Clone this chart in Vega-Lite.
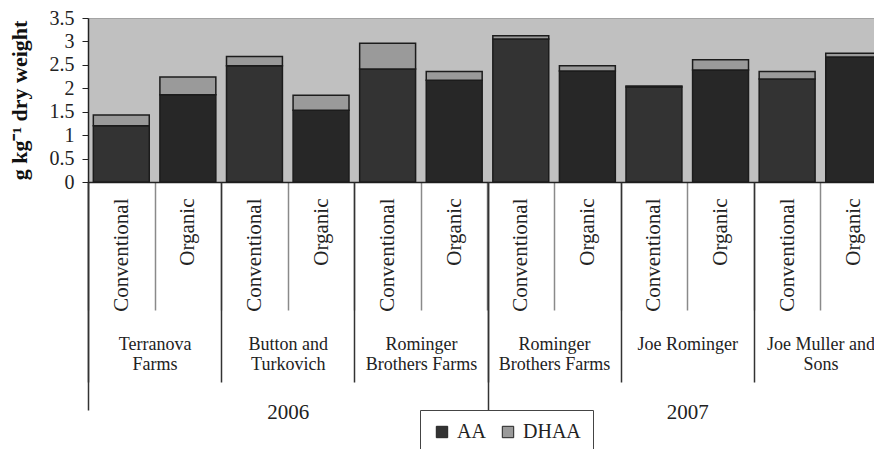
{
  "$schema": "https://vega.github.io/schema/vega-lite/v6.json",
  "width": 786,
  "height": 164,
  "autosize": {"type": "none"},
  "padding": {"left": 88, "top": 18, "right": 0, "bottom": 267},
  "background": "white",
  "data": {
    "values": [
      {"bar": "01|Conventional", "farm": "2006|Terranova|Farms", "year": "2006", "treatment": "Conventional", "form": "AA", "value": 1.20},
      {"bar": "01|Conventional", "farm": "2006|Terranova|Farms", "year": "2006", "treatment": "Conventional", "form": "DHAA", "value": 0.23},
      {"bar": "02|Organic", "farm": "2006|Terranova|Farms", "year": "2006", "treatment": "Organic", "form": "AA", "value": 1.86},
      {"bar": "02|Organic", "farm": "2006|Terranova|Farms", "year": "2006", "treatment": "Organic", "form": "DHAA", "value": 0.38},
      {"bar": "03|Conventional", "farm": "2006|Button and|Turkovich", "year": "2006", "treatment": "Conventional", "form": "AA", "value": 2.48},
      {"bar": "03|Conventional", "farm": "2006|Button and|Turkovich", "year": "2006", "treatment": "Conventional", "form": "DHAA", "value": 0.20},
      {"bar": "04|Organic", "farm": "2006|Button and|Turkovich", "year": "2006", "treatment": "Organic", "form": "AA", "value": 1.53},
      {"bar": "04|Organic", "farm": "2006|Button and|Turkovich", "year": "2006", "treatment": "Organic", "form": "DHAA", "value": 0.32},
      {"bar": "05|Conventional", "farm": "2006|Rominger|Brothers Farms", "year": "2006", "treatment": "Conventional", "form": "AA", "value": 2.41},
      {"bar": "05|Conventional", "farm": "2006|Rominger|Brothers Farms", "year": "2006", "treatment": "Conventional", "form": "DHAA", "value": 0.55},
      {"bar": "06|Organic", "farm": "2006|Rominger|Brothers Farms", "year": "2006", "treatment": "Organic", "form": "AA", "value": 2.17},
      {"bar": "06|Organic", "farm": "2006|Rominger|Brothers Farms", "year": "2006", "treatment": "Organic", "form": "DHAA", "value": 0.19},
      {"bar": "07|Conventional", "farm": "2007|Rominger|Brothers Farms", "year": "2007", "treatment": "Conventional", "form": "AA", "value": 3.05},
      {"bar": "07|Conventional", "farm": "2007|Rominger|Brothers Farms", "year": "2007", "treatment": "Conventional", "form": "DHAA", "value": 0.07},
      {"bar": "08|Organic", "farm": "2007|Rominger|Brothers Farms", "year": "2007", "treatment": "Organic", "form": "AA", "value": 2.37},
      {"bar": "08|Organic", "farm": "2007|Rominger|Brothers Farms", "year": "2007", "treatment": "Organic", "form": "DHAA", "value": 0.11},
      {"bar": "09|Conventional", "farm": "2007|Joe Rominger", "year": "2007", "treatment": "Conventional", "form": "AA", "value": 2.03},
      {"bar": "09|Conventional", "farm": "2007|Joe Rominger", "year": "2007", "treatment": "Conventional", "form": "DHAA", "value": 0.02},
      {"bar": "10|Organic", "farm": "2007|Joe Rominger", "year": "2007", "treatment": "Organic", "form": "AA", "value": 2.39},
      {"bar": "10|Organic", "farm": "2007|Joe Rominger", "year": "2007", "treatment": "Organic", "form": "DHAA", "value": 0.22},
      {"bar": "11|Conventional", "farm": "2007|Joe Muller and|Sons", "year": "2007", "treatment": "Conventional", "form": "AA", "value": 2.20},
      {"bar": "11|Conventional", "farm": "2007|Joe Muller and|Sons", "year": "2007", "treatment": "Conventional", "form": "DHAA", "value": 0.16},
      {"bar": "12|Organic", "farm": "2007|Joe Muller and|Sons", "year": "2007", "treatment": "Organic", "form": "AA", "value": 2.67},
      {"bar": "12|Organic", "farm": "2007|Joe Muller and|Sons", "year": "2007", "treatment": "Organic", "form": "DHAA", "value": 0.08}
    ]
  },
  "layer": [
    {
      "mark": {"type": "bar", "width": {"band": 0.84}, "stroke": "#1c1c1c", "strokeWidth": 1.5},
      "encoding": {
        "x": {
          "field": "bar",
          "type": "nominal",
          "scale": {"range": [0, 799], "paddingInner": 0, "paddingOuter": 0},
          "axis": {
            "orient": "bottom",
            "title": null,
            "tickBand": "extent",
            "tickSize": 128,
            "tickColor": "#8a8a8a",
            "tickWidth": 1.5,
            "domainColor": "#222",
            "domainWidth": 1.5,
            "labelAngle": 270,
            "labelAlign": "right",
            "labelBaseline": "middle",
            "labelPadding": -112,
            "labelFont": "Liberation Serif, Times New Roman, serif",
            "labelFontSize": 21,
            "labelColor": "#222",
            "labelOverlap": false,
            "labelBound": false,
            "labelExpr": "split(datum.value, '|')[1]"
          }
        },
        "y": {
          "field": "value",
          "type": "quantitative",
          "stack": "zero",
          "scale": {"domain": [0, 3.5], "nice": false},
          "axis": {
            "title": "g kg⁻¹ dry weight",
            "values": [0, 0.5, 1, 1.5, 2, 2.5, 3, 3.5],
            "format": "~g",
            "grid": false,
            "tickSize": 6,
            "tickColor": "#222",
            "domainColor": "#222",
            "domainWidth": 1.5,
            "labelPadding": 8,
            "labelFont": "Liberation Serif, Times New Roman, serif",
            "labelFontSize": 20,
            "labelColor": "#222",
            "titleFont": "Liberation Serif, Times New Roman, serif",
            "titleFontSize": 22,
            "titleFontWeight": "bold",
            "titleColor": "#111",
            "titlePadding": 18
          }
        },
        "order": {"field": "form", "type": "nominal", "sort": "ascending"},
        "color": {
          "field": "form",
          "type": "nominal",
          "scale": {"domain": ["AA", "DHAA"], "range": ["#333333", "#9a9a9a"]},
          "condition": {"test": "datum.form == 'AA' && datum.treatment == 'Organic'", "value": "#272727"},
          "legend": {
            "orient": "none",
            "legendX": 332,
            "legendY": 392,
            "direction": "horizontal",
            "title": null,
            "symbolType": "square",
            "symbolSize": 130,
            "symbolStrokeColor": "#222",
            "symbolStrokeWidth": 1,
            "labelFont": "Liberation Serif, Times New Roman, serif",
            "labelFontSize": 20,
            "labelColor": "#222",
            "labelOffset": 5,
            "columnPadding": 12,
            "strokeColor": "#444",
            "fillColor": "white",
            "padding": 12
          }
        }
      }
    },
    {
      "mark": {"type": "point", "opacity": 0},
      "encoding": {
        "x": {
          "field": "farm",
          "type": "nominal",
          "scale": {
            "domain": ["2006|Terranova|Farms", "2006|Button and|Turkovich", "2006|Rominger|Brothers Farms", "2007|Rominger|Brothers Farms", "2007|Joe Rominger", "2007|Joe Muller and|Sons"],
            "range": [0, 799],
            "paddingInner": 0,
            "paddingOuter": 0
          },
          "axis": {
            "orient": "bottom",
            "title": null,
            "domain": false,
            "tickBand": "extent",
            "tickSize": 200,
            "tickColor": "#333",
            "tickWidth": 1.5,
            "labelAngle": 0,
            "labelAlign": "center",
            "labelBaseline": "top",
            "labelPadding": -47,
            "labelLineHeight": 20,
            "labelFont": "Liberation Serif, Times New Roman, serif",
            "labelFontSize": 18,
            "labelColor": "#222",
            "labelOverlap": false,
            "labelBound": false,
            "labelExpr": "slice(split(datum.value, '|'), 1)"
          }
        }
      }
    },
    {
      "mark": {"type": "point", "opacity": 0},
      "encoding": {
        "x": {
          "field": "year",
          "type": "nominal",
          "scale": {"domain": ["2006", "2007"], "range": [0, 799], "paddingInner": 0, "paddingOuter": 0},
          "axis": {
            "orient": "bottom",
            "title": null,
            "domain": false,
            "tickBand": "extent",
            "tickSize": 228,
            "tickColor": "#333",
            "tickWidth": 1.5,
            "labelAngle": 0,
            "labelAlign": "center",
            "labelBaseline": "top",
            "labelPadding": -9,
            "labelFont": "Liberation Serif, Times New Roman, serif",
            "labelFontSize": 21,
            "labelColor": "#222",
            "labelOverlap": false,
            "labelBound": false
          }
        }
      }
    }
  ],
  "resolve": {"scale": {"x": "independent"}, "axis": {"x": "independent"}},
  "config": {
    "view": {"fill": "#c0c0c0", "stroke": "#a4a4a4"}
  }
}
